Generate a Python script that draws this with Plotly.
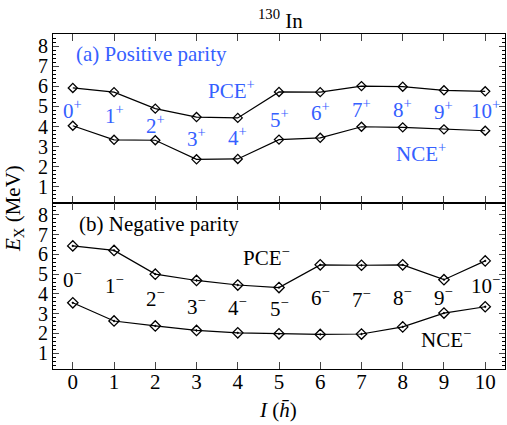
import plotly.graph_objects as go

spins = list(range(11))
pce_pos = [5.92, 5.71, 4.89, 4.47, 4.43, 5.72, 5.71, 6.01, 5.98, 5.80, 5.75]
nce_pos = [4.04, 3.34, 3.32, 2.37, 2.39, 3.35, 3.44, 3.99, 3.96, 3.86, 3.79]
pce_neg = [6.43, 6.20, 5.00, 4.68, 4.45, 4.32, 5.47, 5.45, 5.47, 4.72, 5.67]
nce_neg = [3.55, 2.63, 2.38, 2.15, 2.03, 1.98, 1.95, 1.97, 2.33, 3.03, 3.35]

labels_pos = [f"{i}<sup>+</sup>" for i in spins]
labels_neg = [f"{i}<sup>\u2212</sup>" for i in spins]
label_y_pos = [4.85, 4.6, 4.1, 3.45, 3.5, 4.4, 4.75, 4.9, 4.9, 4.8, 4.85]
label_y_neg = [4.8, 4.5, 3.8, 3.4, 3.35, 3.3, 3.85, 3.75, 3.85, 3.85, 4.5]

FONT = "Times New Roman"
BLUE = "#3560ff"
FS = 21

fig = go.Figure()
line = dict(color="black", width=1.2)
for vals in (pce_pos, nce_pos):
    fig.add_trace(go.Scatter(x=spins, y=vals, mode="lines+markers", line=line,
                             marker=dict(symbol="diamond-open", size=7, color="black",
                                         line=dict(width=1.3, color="black")),
                             xaxis="x", yaxis="y", showlegend=False, hoverinfo="skip"))
for vals in (pce_neg, nce_neg):
    fig.add_trace(go.Scatter(x=spins, y=vals, mode="lines+markers", line=line,
                             marker=dict(symbol="diamond-open-dot", size=8, color="black",
                                         line=dict(width=1.3, color="black")),
                             xaxis="x2", yaxis="y2", showlegend=False, hoverinfo="skip"))

split = 166 / 335
yax = dict(range=[0.2, 8.6], dtick=1, tick0=0, ticks="inside", ticklen=6, tickwidth=1,
           showline=True, linecolor="black", linewidth=1.1, mirror="ticks",
           showgrid=False, zeroline=False, automargin=False,
           tickfont=dict(family=FONT, size=20, color="black"),
           minor=dict(dtick=0.2, tick0=0, ticks="inside", ticklen=3, tickcolor="black", showgrid=False))
xax = dict(range=[-0.48, 10.48], dtick=1, tick0=0, ticks="inside", ticklen=7, tickwidth=1,
           showline=True, linecolor="black", linewidth=1.1, mirror="ticks",
           showgrid=False, zeroline=False, automargin=False, ticklabelstandoff=-6,
           tickfont=dict(family=FONT, size=FS, color="black"))

annotations = []
for i in spins:
    annotations.append(dict(x=i, y=label_y_pos[i], xref="x", yref="y", text=labels_pos[i],
                            showarrow=False, font=dict(family=FONT, size=FS, color=BLUE)))
    annotations.append(dict(x=i, y=label_y_neg[i], xref="x2", yref="y2", text=labels_neg[i],
                            showarrow=False, font=dict(family=FONT, size=FS, color="black")))

annotations += [
    dict(x=0.0, y=7.6, xref="x", yref="y", xanchor="left", text="(a) Positive parity",
         showarrow=False, font=dict(family=FONT, size=FS, color=BLUE), xshift=1),
    dict(x=3.85, y=5.85, xref="x", yref="y", text="PCE<sup>+</sup>",
         showarrow=False, font=dict(family=FONT, size=FS, color=BLUE)),
    dict(x=8.45, y=2.72, xref="x", yref="y", text="NCE<sup>+</sup>",
         showarrow=False, font=dict(family=FONT, size=FS, color=BLUE)),
    dict(x=0.0, y=7.55, xref="x2", yref="y2", xanchor="left", text="(b) Negative parity",
         showarrow=False, font=dict(family=FONT, size=FS, color="black"), xshift=4),
    dict(x=4.7, y=5.9, xref="x2", yref="y2", text="PCE<sup>\u2212</sup>",
         showarrow=False, font=dict(family=FONT, size=FS, color="black")),
    dict(x=9.05, y=1.75, xref="x2", yref="y2", text="NCE<sup>\u2212</sup>",
         showarrow=False, font=dict(family=FONT, size=FS, color="black")),
    dict(x=14, y=209, xref="paper", yref="paper", text="<i>E</i><sub>X</sub> (MeV)",
         showarrow=False, textangle=-90, font=dict(family=FONT, size=FS, color="black")),
    dict(x=278, y=410, xref="paper", yref="paper", text="<i>I</i> (<i>h\u0304</i>)",
         showarrow=False, font=dict(family=FONT, size=FS, color="black")),
    dict(x=280, y=19, xref="paper", yref="paper", text="<sup>130</sup> In",
         showarrow=False, font=dict(family=FONT, size=FS, color="black")),
]

W, H = 507, 425
L, R, T, B = 53, 2, 34, 425 - 369
pw, ph = W - L - R, H - T - B
for a in annotations:
    if a["xref"] == "paper":
        a["x"] = (a["x"] - L) / pw
        a["y"] = (H - B - a["y"]) / ph
        a["xanchor"] = "center"
        a["yanchor"] = "middle"

fig.update_layout(
    width=W, height=H,
    margin=dict(l=L, r=R, t=T, b=B, autoexpand=False),
    paper_bgcolor="white", plot_bgcolor="white",
    font=dict(family=FONT, size=FS, color="black"),
    hovermode=False,
    xaxis=dict(xax, anchor="y", showticklabels=False),
    yaxis=dict(yax, domain=[split, 1], anchor="x"),
    xaxis2=dict(xax, anchor="y2"),
    yaxis2=dict(yax, domain=[0, split], anchor="x2"),
    annotations=annotations,
)

fig.write_html("out.html", config={"displayModeBar": False},
               post_script="document.body.style.margin='0px';")
